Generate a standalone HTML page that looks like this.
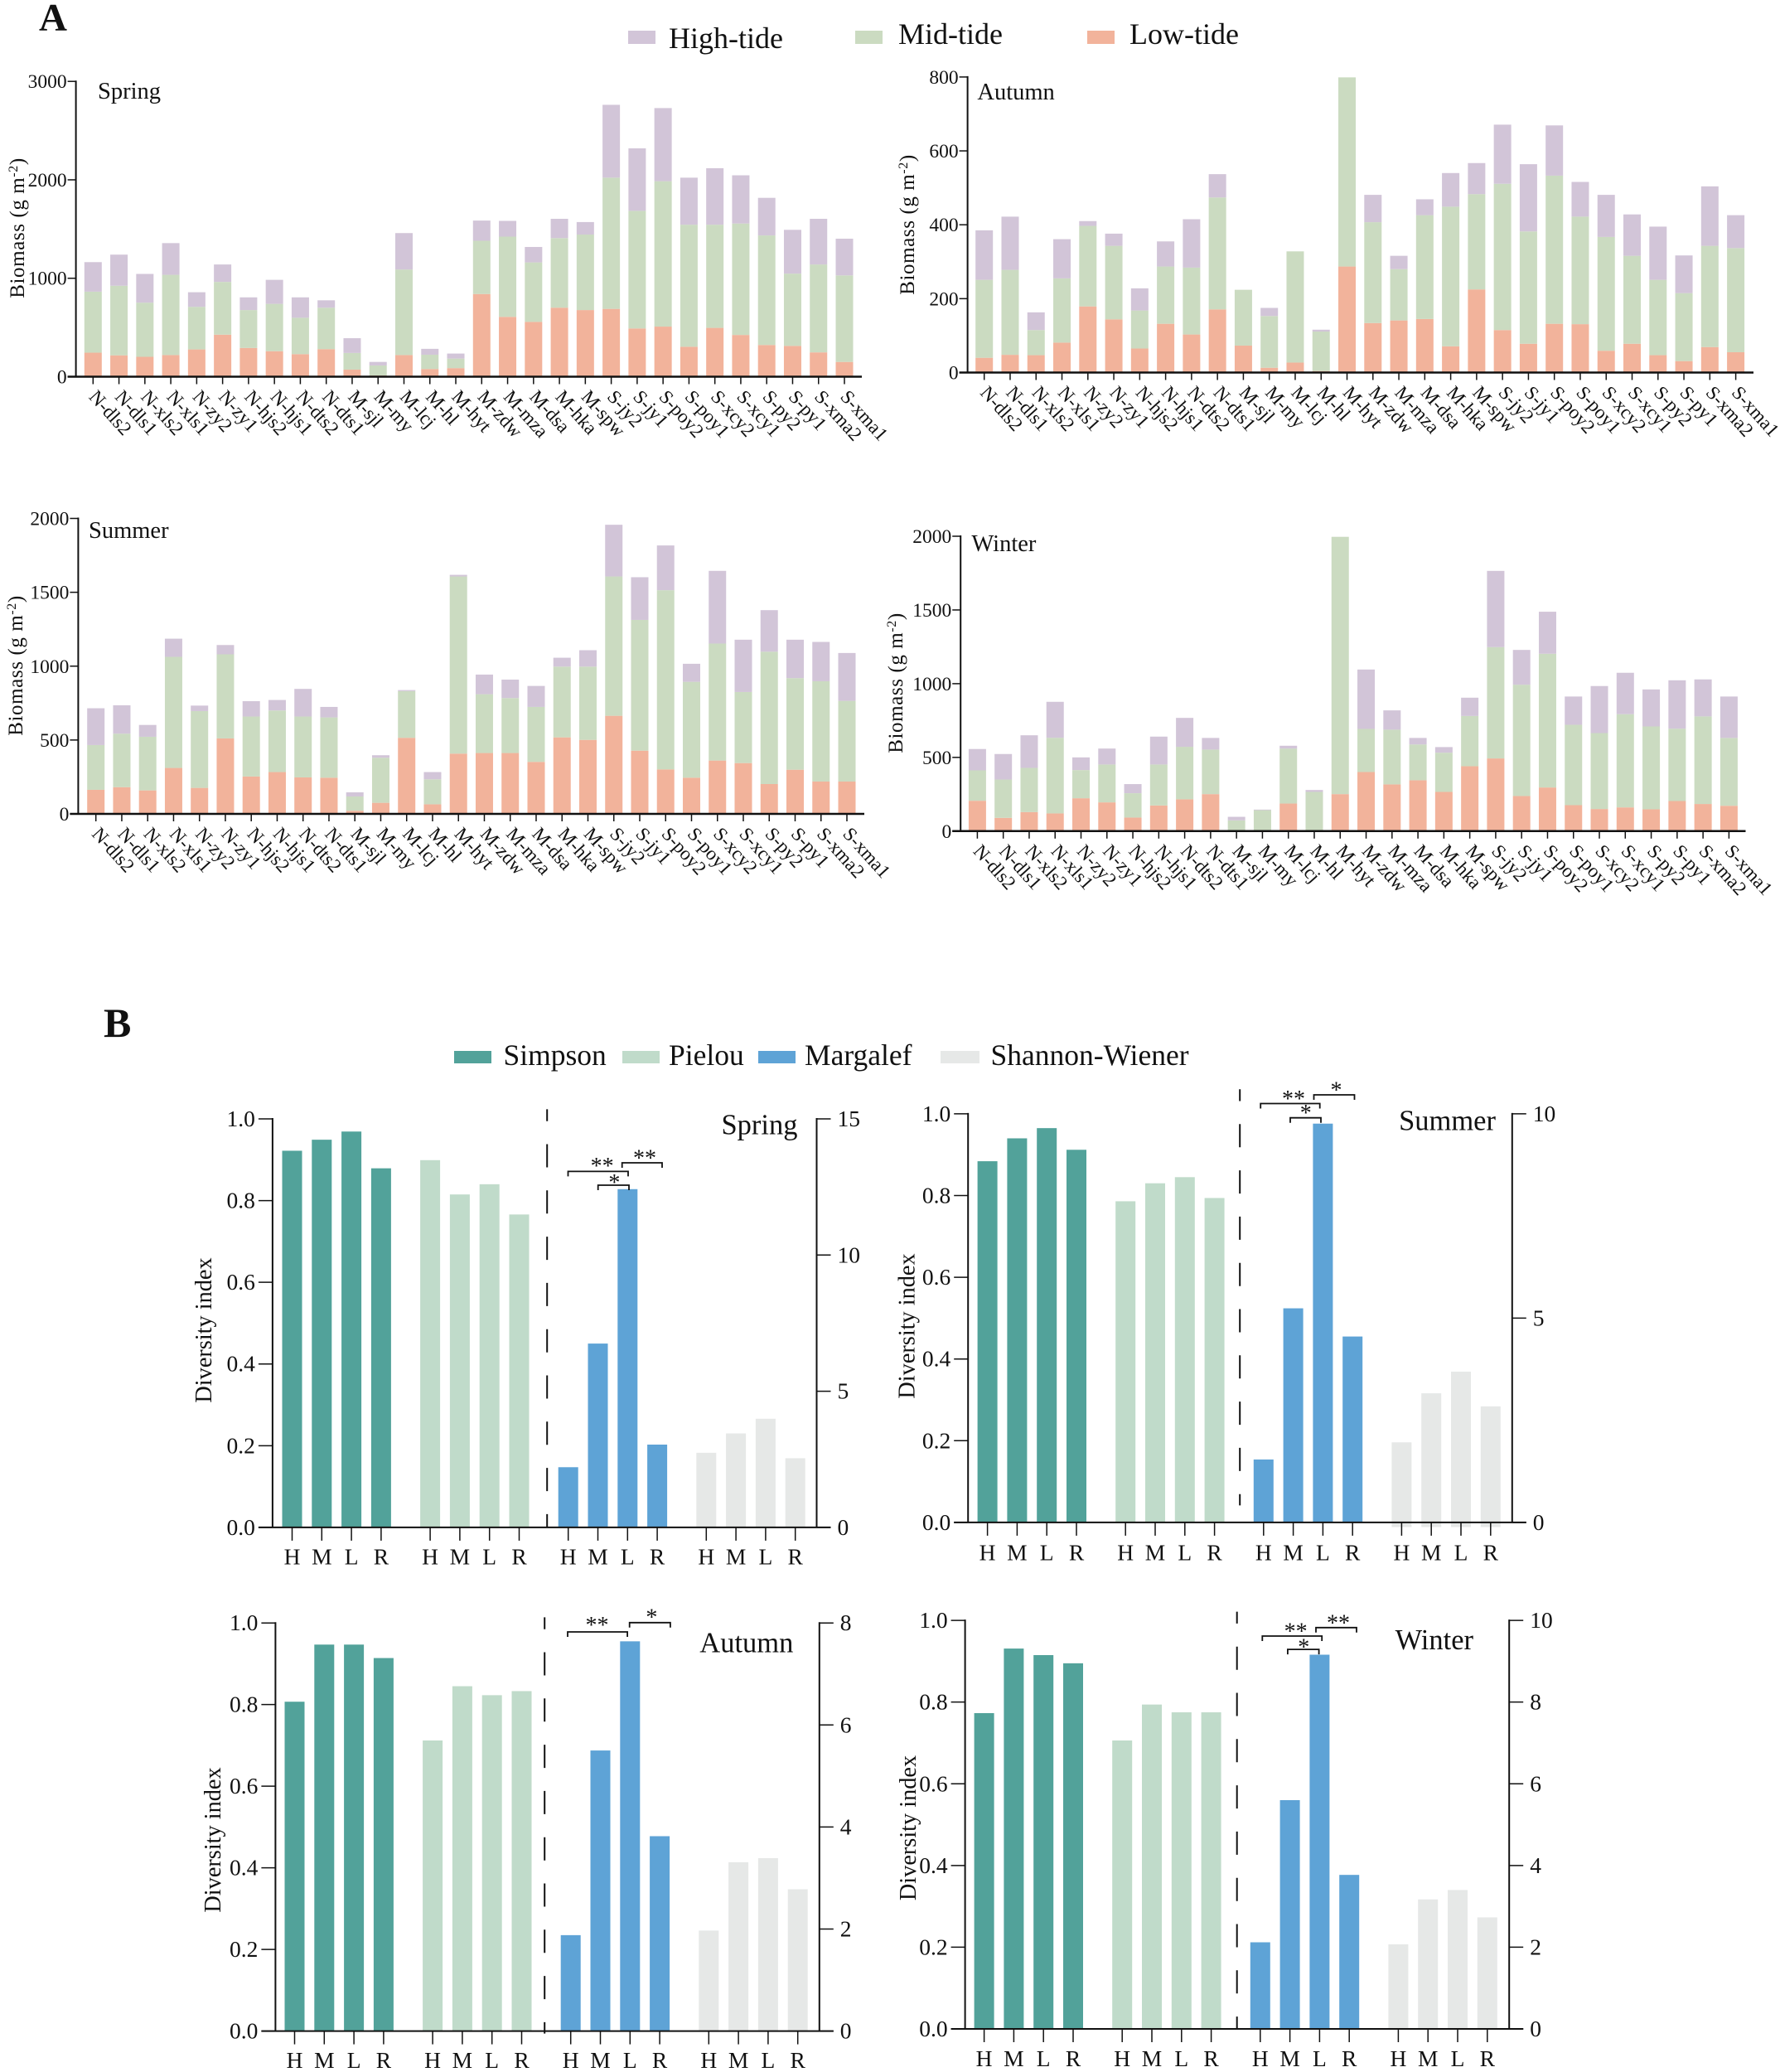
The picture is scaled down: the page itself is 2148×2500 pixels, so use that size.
<!DOCTYPE html>
<html lang="en">
<head>
<meta charset="utf-8">
<title>Biomass and diversity index by season</title>
<style>
html,body{margin:0;padding:0;background:#fff;}
svg{display:block;font-family:"Liberation Serif",serif;fill:#111;}
</style>
</head>
<body>
<svg id="figure" xmlns="http://www.w3.org/2000/svg" width="2148" height="2500" viewBox="0 0 2148 2500">
  <rect x="0" y="0" width="2148" height="2500" fill="#ffffff"/>
  <text x="47" y="36.5" font-size="47" font-weight="bold">A</text>
  <text x="125" y="1251" font-size="50" font-weight="bold">B</text>
  <g>
    <rect x="758" y="37" width="33" height="16" fill="#d2c5d8"/>
    <text x="807" y="58" font-size="36">High-tide</text>
    <rect x="1032" y="37" width="33" height="16" fill="#cbdbc1"/>
    <text x="1084" y="53" font-size="36">Mid-tide</text>
    <rect x="1312" y="37" width="33" height="16" fill="#f2b39b"/>
    <text x="1363" y="53" font-size="36">Low-tide</text>
  </g>
  <g>
    <rect x="548" y="1268" width="45" height="15" fill="#52a29a"/>
    <text x="607.5" y="1285" font-size="35.5">Simpson</text>
    <rect x="751" y="1268" width="45" height="15" fill="#c0dbca"/>
    <text x="807" y="1285" font-size="35.5">Pielou</text>
    <rect x="915" y="1268" width="45" height="15" fill="#5ea3d6"/>
    <text x="971" y="1285" font-size="35.5">Margalef</text>
    <rect x="1135" y="1268" width="47" height="15" fill="#e6e8e7"/>
    <text x="1195.5" y="1285" font-size="35.5">Shannon-Wiener</text>
  </g>
</svg>
<script>
/* ---------- biomass data ---------- */
const sites = ["N-dls2","N-dls1","N-xls2","N-xls1","N-zy2","N-zy1","N-hjs2","N-hjs1","N-dts2","N-dts1","M-sjl","M-my","M-lcj","M-hl","M-hyt","M-zdw","M-mza","M-dsa","M-hka","M-spw","S-jy2","S-jy1","S-poy2","S-poy1","S-xcy2","S-xcy1","S-py2","S-py1","S-xma2","S-xma1"];

const springLow  = [244,217,202,220,277,427,292,259,229,280,72,12,220,78,87,840,608,557,701,677,689,490,509,304,496,424,322,313,247,150];
const springMid  = [620,707,550,815,433,536,385,481,370,421,169,102,869,145,97,541,815,604,707,767,1333,1195,1477,1240,1048,1132,1113,734,893,879];
const springHigh = [300,316,292,322,148,177,129,244,207,75,150,36,370,60,51,205,160,157,196,127,740,635,743,478,574,490,382,445,464,373];
const springTicks = [0,1000,2000,3000];

const autumnLow  = [40,48,47,81,179,144,65,132,103,171,73,13,27,4,287,134,141,145,71,225,115,78,132,131,59,78,47,31,69,55];
const autumnMid  = [211,230,68,174,218,199,103,155,181,303,151,140,301,107,512,273,139,281,378,258,396,304,401,291,308,238,204,184,274,282];
const autumnHigh = [134,144,48,106,13,33,60,68,131,63,0,22,0,5,0,74,36,43,91,84,160,182,136,94,114,112,144,102,161,89];
const autumnTicks = [0,200,400,600,800];

const summerLow  = [163,181,159,311,176,511,253,283,247,245,21,75,515,65,408,412,412,352,518,501,664,428,301,245,361,344,202,299,219,219];
const summerMid  = [303,362,363,752,520,569,406,417,412,408,97,305,316,169,1199,398,372,372,479,496,943,885,1213,649,792,481,896,620,679,546];
const summerHigh = [249,192,80,123,37,63,104,71,187,71,28,17,7,49,11,133,125,142,60,111,350,289,303,122,492,354,281,260,266,324];
const summerTicks = [0,500,1000,1500,2000];

const winterLow  = [206,90,129,120,223,195,92,174,216,251,2,2,187,2,251,401,317,345,266,440,493,238,296,176,150,161,148,204,184,172];
const winterMid  = [206,260,300,513,191,257,165,278,356,302,71,140,373,264,1745,292,371,243,266,341,755,755,907,545,515,632,562,491,594,460];
const winterHigh = [145,173,221,244,86,108,62,189,196,79,24,4,19,13,0,403,131,44,38,124,517,236,285,192,319,281,251,328,251,281];
const winterTicks = [0,500,1000,1500,2000];

/* ---------- diversity data ---------- */
const tideLabels = ["H","M","L","R"];
const leftTicks = ["0.0","0.2","0.4","0.6","0.8","1.0"];

const springSimpson  = [0.922,0.949,0.969,0.879];
const springPielou   = [0.899,0.815,0.840,0.766];
const springMargalef = [2.21,6.75,12.42,3.04];
const springShannon  = [2.74,3.45,3.99,2.54];
const springRightTicks = [0,5,10,15];

const summerSimpson  = [0.884,0.940,0.965,0.912];
const summerPielou   = [0.786,0.830,0.845,0.794];
const summerMargalef = [1.54,5.24,9.76,4.55];
const summerShannon  = [1.96,3.16,3.69,2.84];
const summerRightTicks = [0,5,10];

const autumnSimpson  = [0.807,0.947,0.947,0.914];
const autumnPielou   = [0.712,0.845,0.823,0.833];
const autumnMargalef = [1.88,5.50,7.64,3.82];
const autumnShannon  = [1.97,3.31,3.39,2.78];
const autumnRightTicks = [0,2,4,6,8];

const winterSimpson  = [0.773,0.931,0.915,0.895];
const winterPielou   = [0.706,0.794,0.775,0.775];
const winterMargalef = [2.12,5.60,9.16,3.77];
const winterShannon  = [2.07,3.17,3.40,2.73];
const winterRightTicks = [0,2,4,6,8,10];

/* ---------- helpers ---------- */
const root = document.getElementById('figure');
const NS = 'http://www.w3.org/2000/svg';
const INK = '#111111';

function make(parent, tag, props) {
  const el = document.createElementNS(NS, tag);
  for (const k in props) el.setAttribute(k, props[k]);
  parent.appendChild(el);
  return el;
}

/* ---------- biomass panel ---------- */
function drawBiomass(p) {
  const g = make(root, 'g', {});
  
  

  const yMax = p.ticks[p.ticks.length - 1];
  const yScale = v => p.base - (v / yMax) * (p.base - p.top);
  const step = (p.lastX - p.firstX) / (sites.length - 1);
  const xScale = i => p.firstX + i * step;
  const barW = 21;

  sites.forEach((site, i) => {
    const stack = [[p.low[i], '#f2b39b', 'low-tide'], [p.mid[i], '#cbdbc1', 'mid-tide'], [p.high[i], '#d2c5d8', 'high-tide']];
    let cum = 0;
    stack.forEach(seg => {
      const y1 = yScale(cum), y2 = yScale(cum + seg[0]);
      const r = make(g, 'rect', {x: xScale(i) - barW / 2, y: y2, width: barW, height: Math.max(0, y1 - y2), fill: seg[1]});
      
      
      cum += seg[0];
    });
    const t = make(g, 'line', {x1: xScale(i), x2: xScale(i), y1: p.base, y2: p.base + 9, stroke: INK, 'stroke-width': 1.5});
    
    
    const lx = xScale(i) - 6, ly = p.base + 25;
    const lab = make(g, 'text', {transform: 'translate(' + lx + ',' + ly + ') rotate(48)', 'font-size': 23.3});
    lab.textContent = site;
    
    
  });

  const ya = make(g, 'line', {x1: p.axisX, x2: p.axisX, y1: p.top - 1, y2: p.base, stroke: INK, 'stroke-width': 2});
  
  
  const xa = make(g, 'line', {x1: p.axisX - 10, x2: p.endX, y1: p.base, y2: p.base, stroke: INK, 'stroke-width': 2.5});
  
  

  p.ticks.forEach(v => {
    const t = make(g, 'line', {x1: p.axisX - 10, x2: p.axisX, y1: yScale(v), y2: yScale(v), stroke: INK, 'stroke-width': 1.5});
    
    
    const l = make(g, 'text', {x: p.axisX - 11, y: yScale(v) + 8, 'text-anchor': 'end', 'font-size': 23.5});
    l.textContent = v;
    
    
  });

  const yt = make(g, 'text', {transform: 'translate(' + p.ytX + ',' + p.ytY + ') rotate(-90)', 'text-anchor': 'middle', 'font-size': 25, 'letter-spacing': 0.6});
  yt.innerHTML = 'Biomass (g m<tspan dy="-8" font-size="16">-2</tspan><tspan dy="8">)</tspan>';
  
  

  const title = make(g, 'text', {x: p.titleX, y: p.titleY, 'font-size': 28.5});
  title.textContent = p.title;
  
  
}

/* ---------- diversity panel ---------- */
function drawDiversity(p) {
  const g = make(root, 'g', {});
  
  

  const rightMax = p.rightTicks[p.rightTicks.length - 1];
  const yLeft = v => p.base - v * (p.base - p.top);
  const yRight = v => p.base - (v / rightMax) * (p.base - p.top);
  const xScale = (group, j) => p.x0 + group * 166.6 + j * 35.8;
  const barW = 24;

  const series = [
    [p.simpson, '#52a29a', yLeft, 'simpson', 0],
    [p.pielou, '#c0dbca', yLeft, 'pielou', 0],
    [p.margalef, '#5ea3d6', yRight, 'margalef', 0],
    [p.shannon, '#e6e8e7', yRight, 'shannon', p.shannonOverhang]
  ];
  series.forEach((s, sg) => {
    tideLabels.forEach((tide, j) => {
      const y = s[2](s[0][j]);
      const r = make(g, 'rect', {x: xScale(sg, j) - barW / 2, y: y, width: barW, height: p.base - y + s[4], fill: s[1]});
      
      
      const t = make(g, 'line', {x1: xScale(sg, j), x2: xScale(sg, j), y1: p.base, y2: p.base + 16, stroke: INK, 'stroke-width': 1.5});
      
      
      const l = make(g, 'text', {x: xScale(sg, j), y: p.labelY, 'text-anchor': 'middle', 'font-size': 27.5});
      l.textContent = tide;
      
      
    });
  });

  const la = make(g, 'line', {x1: p.leftX, x2: p.leftX, y1: p.top - 1, y2: p.base, stroke: INK, 'stroke-width': 2});
  
  
  const ra = make(g, 'line', {x1: p.rightX, x2: p.rightX, y1: p.top - 1, y2: p.base, stroke: INK, 'stroke-width': 2});
  
  
  const ba = make(g, 'line', {x1: p.leftX - 17, x2: p.rightX + 17, y1: p.base, y2: p.base, stroke: INK, 'stroke-width': 2});
  
  

  leftTicks.forEach(txt => {
    const y = yLeft(parseFloat(txt));
    const t = make(g, 'line', {x1: p.leftX - 17, x2: p.leftX, y1: y, y2: y, stroke: INK, 'stroke-width': 1.5});
    
    
    const l = make(g, 'text', {x: p.leftX - 21, y: y + 9, 'text-anchor': 'end', 'font-size': 27.5});
    l.textContent = txt;
    
    
  });
  p.rightTicks.forEach(v => {
    const y = yRight(v);
    const t = make(g, 'line', {x1: p.rightX, x2: p.rightX + 17, y1: y, y2: y, stroke: INK, 'stroke-width': 1.5});
    
    
    const l = make(g, 'text', {x: p.rightX + 25, y: y + 9, 'font-size': 27.5});
    l.textContent = v;
    
    
  });

  const dl = make(g, 'line', {x1: p.dashX, x2: p.dashX, y1: p.dashTop, y2: p.dashEnd, stroke: INK, 'stroke-width': 2, 'stroke-dasharray': '28 27.8', 'stroke-dashoffset': 13.7});
  
  

  p.brackets.forEach((b, idx) => {
    const path = make(g, 'path', {d: 'M' + b.x1 + ' ' + (b.y + 6) + 'V' + b.y + 'H' + b.x2 + 'V' + (b.y + 6), fill: 'none', stroke: INK, 'stroke-width': 1.8});
    
    
    const st = make(g, 'text', {x: b.sx, y: b.sy + 13, 'text-anchor': 'middle', 'font-size': 28});
    st.textContent = b.mark;
    
    
  });

  const yt = make(g, 'text', {transform: 'translate(' + p.ytX + ',' + p.ytY + ') rotate(-90)', 'text-anchor': 'middle', 'font-size': 28.3});
  yt.textContent = 'Diversity index';
  
  

  const title = make(g, 'text', {x: p.titleX, y: p.titleY, 'text-anchor': 'end', 'font-size': 34.5});
  title.textContent = p.title;
  
  
}

/* ---------- draw ---------- */
drawBiomass({key:'spring', title:'Spring', low:springLow, mid:springMid, high:springHigh, ticks:springTicks,
  axisX:91.6, top:98.2, base:454.5, firstX:112.3, lastX:1019, endX:1040, ytX:29, ytY:275, titleX:118, titleY:119});
drawBiomass({key:'autumn', title:'Autumn', low:autumnLow, mid:autumnMid, high:autumnHigh, ticks:autumnTicks,
  axisX:1167.6, top:92.9, base:449.5, firstX:1187.7, lastX:2094.6, endX:2116, ytX:1103, ytY:271, titleX:1179.4, titleY:120});
drawBiomass({key:'summer', title:'Summer', low:summerLow, mid:summerMid, high:summerHigh, ticks:summerTicks,
  axisX:94.4, top:625.5, base:982, firstX:115.7, lastX:1022, endX:1043, ytX:27, ytY:803, titleX:107, titleY:649});
drawBiomass({key:'winter', title:'Winter', low:winterLow, mid:winterMid, high:winterHigh, ticks:winterTicks,
  axisX:1159.2, top:647, base:1002.8, firstX:1179.4, lastX:2086.4, endX:2106.5, ytX:1089, ytY:824, titleX:1172.4, titleY:665});

drawDiversity({key:'spring', title:'Spring', simpson:springSimpson, pielou:springPielou, margalef:springMargalef, shannon:springShannon, rightTicks:springRightTicks,
  leftX:328.9, rightX:985.5, top:1350, base:1842.9, x0:352.5, labelY:1887.5, dashX:660.2, dashTop:1338.4, dashEnd:1842.9, shannonOverhang:0,
  ytX:254.8, ytY:1605, titleX:962.5, titleY:1368.7,
  brackets:[
    {x1:685.5,x2:758,y:1413.4,sx:726.6,sy:1403,mark:'**'},
    {x1:750.7,x2:799,y:1403,sx:778,sy:1393.3,mark:'**'},
    {x1:721.7,x2:759,y:1430,sx:741.4,sy:1423,mark:'*'}
  ]});
drawDiversity({key:'summer', title:'Summer', simpson:summerSimpson, pielou:summerPielou, margalef:summerMargalef, shannon:summerShannon, rightTicks:summerRightTicks,
  leftX:1168.2, rightX:1824.8, top:1343.9, base:1836.9, x0:1191.6, labelY:1882.7, dashX:1496.2, dashTop:1314.2, dashEnd:1816.4, shannonOverhang:5.6,
  ytX:1103.4, ytY:1600, titleX:1805, titleY:1363.6,
  brackets:[
    {x1:1521.2,x2:1592.7,y:1331.5,sx:1561,sy:1322,mark:'**'},
    {x1:1585.5,x2:1634.5,y:1321,sx:1612.5,sy:1311.4,mark:'*'},
    {x1:1557,x2:1594,y:1348.7,sx:1575.8,sy:1339,mark:'*'}
  ]});
drawDiversity({key:'autumn', title:'Autumn', simpson:autumnSimpson, pielou:autumnPielou, margalef:autumnMargalef, shannon:autumnShannon, rightTicks:autumnRightTicks,
  leftX:332.4, rightX:988.8, top:1958.2, base:2450.6, x0:355.5, labelY:2495, dashX:657.2, dashTop:1951.4, dashEnd:2453.6, shannonOverhang:0,
  ytX:266, ytY:2220, titleX:957.4, titleY:1993.5,
  brackets:[
    {x1:685,x2:757.1,y:1969,sx:720.5,sy:1957,mark:'**'},
    {x1:759.7,x2:808.9,y:1957.8,sx:786.4,sy:1947.6,mark:'*'}
  ]});
drawDiversity({key:'winter', title:'Winter', simpson:winterSimpson, pielou:winterPielou, margalef:winterMargalef, shannon:winterShannon, rightTicks:winterRightTicks,
  leftX:1164.6, rightX:1821.2, top:1955.1, base:2448, x0:1187.6, labelY:2493, dashX:1492.7, dashTop:1944.6, dashEnd:2448, shannonOverhang:0,
  ytX:1105, ytY:2205.5, titleX:1778, titleY:1989.8,
  brackets:[
    {x1:1523.3,x2:1595.2,y:1974,sx:1563.6,sy:1964.6,mark:'**'},
    {x1:1588,x2:1637,y:1963.8,sx:1615,sy:1954.4,mark:'**'},
    {x1:1553.9,x2:1591.6,y:1990.1,sx:1573.3,sy:1983.4,mark:'*'}
  ]});
</script>
</body>
</html>
